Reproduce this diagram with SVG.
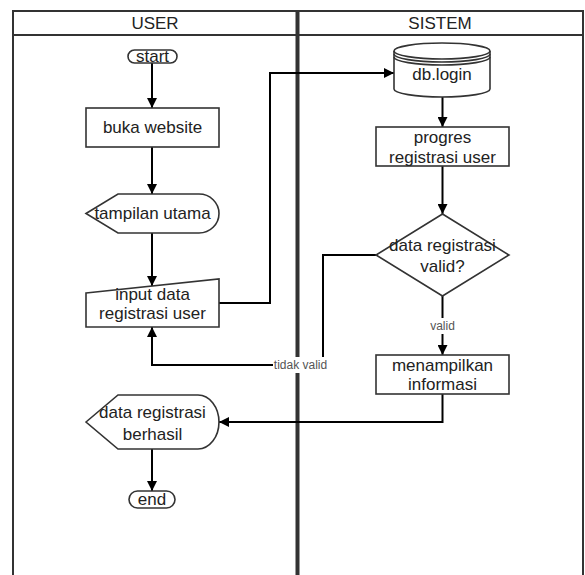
<svg xmlns="http://www.w3.org/2000/svg" width="585" height="575" viewBox="0 0 585 575">
<defs>
<marker id="arr" viewBox="0 0 10 10" refX="10" refY="5" markerWidth="10" markerHeight="10" markerUnits="userSpaceOnUse" orient="auto">
<path d="M0,0 L10,5 L0,10 Z" fill="#000"/>
</marker>
<style>
.node{fill:#fff;stroke:#333;stroke-width:1.6}
.t{font-family:"Liberation Sans",Arial,sans-serif;font-size:17px;fill:#222;text-anchor:middle;dominant-baseline:central}
.lbl{font-family:"Liberation Sans",Arial,sans-serif;font-size:12px;fill:#555;text-anchor:middle;dominant-baseline:central}
.c{fill:none;stroke:#000;stroke-width:2}
.ca{fill:none;stroke:#000;stroke-width:2;marker-end:url(#arr)}
.lane{fill:none;stroke:#333;stroke-width:2}
</style>
</defs>
<rect width="585" height="575" fill="#fff"/>
<g id="swimlanes">
<rect class="lane" x="13" y="11" width="570" height="580"/>
<line class="lane" x1="13" y1="35" x2="583" y2="35"/>
<line x1="297.5" y1="11" x2="297.5" y2="580" stroke="#333" stroke-width="4"/>
<text class="t" x="155" y="23">USER</text>
<text class="t" x="440" y="23">SISTEM</text>
</g>
<g id="connectors">
<line class="ca" x1="152" y1="63" x2="152" y2="108"/>
<line class="ca" x1="152" y1="147" x2="152" y2="194"/>
<line class="ca" x1="152" y1="233" x2="152" y2="286"/>
<polyline class="ca" points="219,303 270,303 270,73 394,73"/>
<line class="ca" x1="442.5" y1="97" x2="442.5" y2="127"/>
<line class="ca" x1="442.5" y1="166" x2="442.5" y2="214"/>
<line class="ca" x1="442.5" y1="296" x2="442.5" y2="355"/>
<polyline class="ca" points="376,255 323,255 323,365 152,365 152,327"/>
<polyline class="ca" points="442.5,394 442.5,422 219,422"/>
<line class="ca" x1="152" y1="449" x2="152" y2="491"/>
<rect x="424" y="318" width="37" height="16" fill="#fff"/>
<text class="lbl" x="442.5" y="326">valid</text>
<rect x="273" y="357" width="55" height="16" fill="#fff"/>
<text class="lbl" x="300.5" y="365">tidak valid</text>
</g>
<g id="start">
<rect class="node" x="128" y="50" width="49" height="13" rx="6.5"/>
<text class="t" x="152.5" y="56">start</text>
</g>
<g id="buka-website">
<rect class="node" x="86" y="108" width="133" height="39"/>
<text class="t" x="152.5" y="127">buka website</text>
</g>
<g id="tampilan-utama">
<path class="node" d="M86,213.5 L118,194 H199 A20,19.5 0 0 1 199,233 H118 Z"/>
<text class="t" x="152.5" y="213">tampilan utama</text>
</g>
<g id="input-data">
<path class="node" d="M86,293 L219,279 V327 H86 Z"/>
<text class="t" x="152.5" y="294">input data</text>
<text class="t" x="152.5" y="313">registrasi user</text>
</g>
<g id="db-login">
<path class="node" d="M394,51 A48,8 0 0 1 490,51 V89 A48,8 0 0 1 394,89 Z"/>
<path fill="none" stroke="#333" stroke-width="1.6" d="M394,51 A48,8 0 0 0 490,51 M394,54 A48,8 0 0 0 490,54 M394,57 A48,8 0 0 0 490,57"/>
<text class="t" x="442" y="74">db.login</text>
</g>
<g id="progres">
<rect class="node" x="376" y="127" width="133" height="39"/>
<text class="t" x="442.5" y="137">progres</text>
<text class="t" x="442.5" y="157">registrasi user</text>
</g>
<g id="valid-decision">
<path class="node" d="M442.5,214 L509,255 L442.5,296 L376,255 Z"/>
<text class="t" x="442.5" y="245">data registrasi</text>
<text class="t" x="442.5" y="266">valid?</text>
</g>
<g id="menampilkan">
<rect class="node" x="376" y="355" width="133" height="39"/>
<text class="t" x="442.5" y="365">menampilkan</text>
<text class="t" x="442.5" y="384">informasi</text>
</g>
<g id="berhasil">
<path class="node" d="M86,422 L118,395 H198 A21,27 0 0 1 198,449 H118 Z"/>
<text class="t" x="152.5" y="412">data registrasi</text>
<text class="t" x="152.5" y="434">berhasil</text>
</g>
<g id="end">
<rect class="node" x="129" y="491" width="46" height="17" rx="8.5"/>
<text class="t" x="152" y="499">end</text>
</g>
</svg>
